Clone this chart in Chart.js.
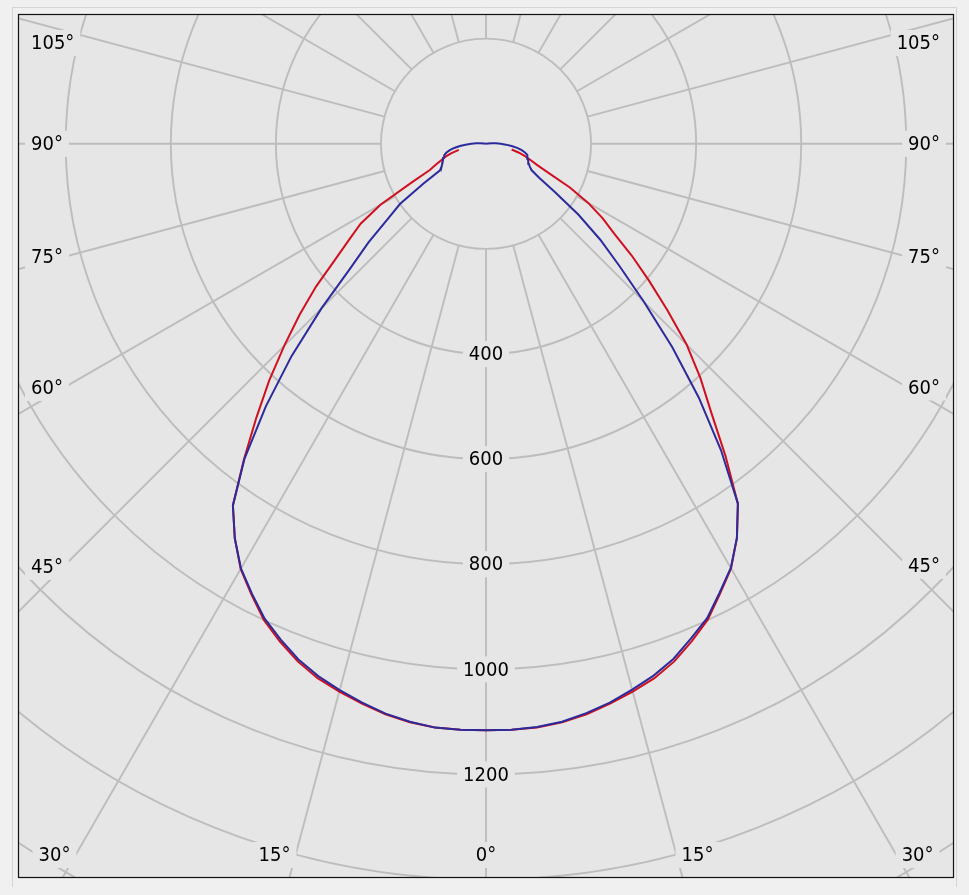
<!DOCTYPE html>
<html lang="en">
<head>
<meta charset="UTF-8">
<title>Luminous intensity distribution</title>
<script src="https://cdn.jsdelivr.net/npm/chart.js@4"></script>
<style>
  body { margin: 0; background: #f0f0f0; }
  .wrap { width: 969px; height: 895px; position: relative; }
</style>
</head>
<body>
<div class="wrap"><canvas id="polar"></canvas></div>
<script>
// gamma angle, degrees from nadir (0 = straight down)
const angles = [0, 2.5, 5, 7.5, 10, 12.5, 15, 17.5, 20, 22.5, 25, 27.5, 30, 32.5, 35, 37.5, 40,
  42.5, 45, 47.5, 50, 52.5, 55, 57.5, 60, 62.5, 65, 67.5, 70, 72.5, 75, 77.5, 80, 82.5, 85,
  87.5, 90, 92.5, 95, 97.5, 100];

// intensity (cd/klm), left and right halves
const blueLeft = [1116, 1116, 1115, 1109, 1101, 1089, 1076, 1062, 1044, 1021, 997, 965, 933, 890,
  840, 755, 652, 548, 443, 350, 292, 237, 200, 141, 101, 96, 92, 89, 87, 84, 82, 77, 70, 61, 50,
  39, 28, 19, 11, 4, 0];
const blueRight = [1116, 1116, 1114, 1109, 1100, 1089, 1075, 1061, 1043, 1019, 996, 963, 932, 889,
  836, 735, 630, 525, 425, 345, 284, 222, 160, 120, 100, 94, 90, 87, 85, 83, 81, 76, 69, 60, 49,
  38, 28, 19, 11, 4, 0];
const redLeft = [1116, 1116, 1115, 1110, 1102, 1091, 1079, 1066, 1048, 1025, 1000, 967, 934, 890,
  840, 757, 680, 611, 543, 481, 422, 362, 318, 283, 232, 160, 118, 103, 90, 80, 68, 53,
  null, null, null, null, null, null, null, null, null];
const redRight = [1116, 1116, 1115, 1110, 1102, 1091, 1079, 1066, 1048, 1024, 999, 965, 933, 889,
  836, 749, 667, 604, 540, 468, 405, 350, 298, 263, 224, 180, 132, 105, 90, 78, 64, 50,
  null, null, null, null, null, null, null, null, null];

const rings = [200, 400, 600, 800, 1000, 1200, 1400, 1600, 1800];
const ringLabels = [400, 600, 800, 1000, 1200];
const labelAngles = [0, 15, 30, 45, 60, 75, 90, 105];

const FONT = '20px "DejaVu Sans Condensed", "DejaVu Sans", sans-serif';
const PLOT_BG = '#e6e6e6';

// polar -> cartesian, left half walks down from the top, right half back up
function outline(left, right) {
  const pts = [];
  for (let i = angles.length - 1; i >= 0; i--) {
    if (left[i] == null) continue;
    const t = angles[i] * Math.PI / 180;
    pts.push({ x: -left[i] * Math.sin(t), y: -left[i] * Math.cos(t) });
  }
  for (let i = 1; i < angles.length; i++) {
    if (right[i] == null) continue;
    const t = angles[i] * Math.PI / 180;
    pts.push({ x: right[i] * Math.sin(t), y: -right[i] * Math.cos(t) });
  }
  return pts;
}

function labelBox(ctx, text, x, y, align) {
  const w = ctx.measureText(text).width;
  let x0 = x;
  if (align === 'center') x0 = x - w / 2;
  if (align === 'right') x0 = x - w;
  ctx.fillStyle = PLOT_BG;
  ctx.fillRect(x0 - 6, y - 13, w + 12, 26);
  ctx.fillStyle = '#000';
  ctx.textAlign = align;
  ctx.fillText(text, x, y + 1);
}

const polarGrid = {
  id: 'polarGrid',
  beforeDraw(chart) {
    const { ctx, chartArea: ca } = chart;
    ctx.save();
    ctx.fillStyle = '#f0f0f0';
    ctx.fillRect(0, 0, chart.width, chart.height);
    ctx.strokeStyle = '#d4d4d4';
    ctx.lineWidth = 1;
    ctx.beginPath();
    ctx.moveTo(ca.left - 6.5, ca.bottom + 10);
    ctx.lineTo(ca.left - 6.5, ca.top - 7.5);
    ctx.lineTo(ca.right + 3.5, ca.top - 7.5);
    ctx.lineTo(ca.right + 3.5, ca.bottom + 10);
    ctx.stroke();
    ctx.fillStyle = PLOT_BG;
    ctx.fillRect(ca.left, ca.top, ca.width, ca.height);
    ctx.restore();
  },
  beforeDatasetsDraw(chart) {
    const { ctx, chartArea: ca, scales } = chart;
    const cx = scales.x.getPixelForValue(0);
    const cy = scales.y.getPixelForValue(0);
    const kx = (scales.x.getPixelForValue(1000) - cx) / 1000;
    const ky = (scales.y.getPixelForValue(-1000) - cy) / 1000;

    ctx.save();
    ctx.beginPath();
    ctx.rect(ca.left, ca.top, ca.width, ca.height);
    ctx.clip();
    ctx.strokeStyle = '#bdbdbd';
    ctx.lineWidth = 1.9;
    rings.forEach(r => {
      ctx.beginPath();
      ctx.ellipse(cx, cy, r * kx, r * ky, 0, 0, Math.PI * 2);
      ctx.stroke();
    });
    for (let a = 0; a < 360; a += 15) {
      const t = a * Math.PI / 180;
      ctx.beginPath();
      ctx.moveTo(cx + Math.sin(t) * 200 * kx, cy + Math.cos(t) * 200 * ky);
      ctx.lineTo(cx + Math.sin(t) * 2000 * kx, cy + Math.cos(t) * 2000 * ky);
      ctx.stroke();
    }

    ctx.font = FONT;
    ctx.textBaseline = 'middle';
    ringLabels.forEach(r => labelBox(ctx, String(r), cx, cy + r * ky, 'center'));

    const corner = Math.atan2(cx - ca.left, ca.bottom - cy) * 180 / Math.PI;
    labelAngles.forEach(a => {
      const t = a * Math.PI / 180;
      const txt = a + '\u00b0';
      const sides = a === 0 ? [0] : [-1, 1];
      sides.forEach(side => {
        if (a < corner) {
          const y = ca.bottom - 22;
          const x = cx + side * Math.tan(t) * (y - cy);
          if (side === 0) labelBox(ctx, txt, x, y, 'center');
          else if (side < 0) labelBox(ctx, txt, x - 5, y, 'right');
          else labelBox(ctx, txt, x + 5, y, 'left');
        } else {
          const w = ctx.measureText(txt).width;
          const xi = side < 0 ? ca.left + 12 + w : ca.right - 13 - w;
          let y = cy + Math.abs(xi - cx) / Math.tan(t);
          y = Math.max(ca.top + 28, Math.min(ca.bottom - 40, y));
          if (side < 0) labelBox(ctx, txt, ca.left + 12, y, 'left');
          else labelBox(ctx, txt, ca.right - 13, y, 'right');
        }
      });
    });
    ctx.restore();
  },
  afterDatasetsDraw(chart) {
    const { ctx, chartArea: ca } = chart;
    ctx.save();
    ctx.strokeStyle = '#111';
    ctx.lineWidth = 1.2;
    ctx.strokeRect(ca.left - 0.5, ca.top - 0.5, ca.width + 1, ca.height + 1);
    ctx.restore();
  }
};

new Chart(document.getElementById('polar'), {
  type: 'scatter',
  data: {
    datasets: [
      {
        label: 'C90 - C270',
        data: outline(blueLeft, blueRight),
        showLine: true,
        borderColor: '#2b2b9c',
        borderWidth: 2,
        pointRadius: 0,
        order: 0
      },
      {
        label: 'C0 - C180',
        data: outline(redLeft, redRight),
        showLine: true,
        borderColor: '#d01020',
        borderWidth: 2,
        pointRadius: 0,
        order: 1
      }
    ]
  },
  options: {
    responsive: true,
    maintainAspectRatio: false,
    animation: false,
    layout: { padding: { left: 19, top: 15, right: 16, bottom: 18 } },
    plugins: { legend: { display: false }, tooltip: { enabled: false } },
    scales: {
      x: { type: 'linear', min: -889, max: 889, display: false },
      y: { type: 'linear', min: -1395, max: 245, display: false }
    }
  },
  plugins: [polarGrid]
});
</script>
</body>
</html>
